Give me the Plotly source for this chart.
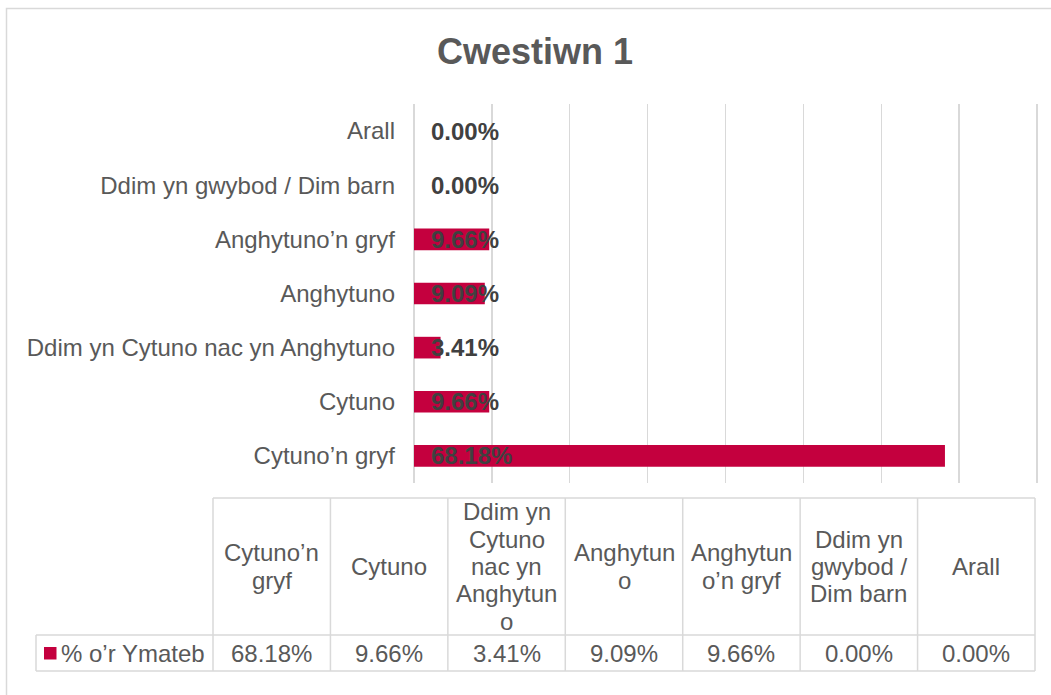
import plotly.graph_objects as go

# ---------------- data ----------------
categories = [
    "Cytuno’n gryf",
    "Cytuno",
    "Ddim yn Cytuno nac yn Anghytuno",
    "Anghytuno",
    "Anghytuno’n gryf",
    "Ddim yn gwybod / Dim barn",
    "Arall",
]
values = [68.18, 9.66, 3.41, 9.09, 9.66, 0.00, 0.00]
series_name = "% o’r Ymateb"
chart_title = "Cwestiwn 1"
x_ticks = [0, 10, 20, 30, 40, 50, 60, 70, 80]

# ---------------- style ----------------
OFF = 0                      # body margin removed via post_script
W, H = 1051 - OFF, 695 - OFF
FONT = "Liberation Sans, Arial, sans-serif"
BAR = "#C4003E"
TXT = "#595959"
LBL = "#404040"
GRID = "#d9d9d9"


def fx(px):
    return (px - OFF) / W


def fy(py):
    return 1 - (py - OFF) / H


# approximate Arial widths (em/1000) for word wrapping in the table header
_w = {" ": 278, "/": 278, "’": 222, "A": 667, "C": 722, "D": 722, "a": 556, "b": 556,
      "c": 500, "d": 556, "e": 556, "f": 278, "g": 556, "h": 556, "i": 222, "l": 222,
      "m": 833, "n": 556, "o": 556, "r": 333, "t": 278, "u": 556, "w": 722, "y": 500}


def tw(s, size=24):
    return sum(_w.get(c, 556) for c in s) * size / 1000


def wrap(text, maxw=105):
    lines, cur = [], ""
    for word in text.split(" "):
        cand = word if not cur else cur + " " + word
        if tw(cand) <= maxw:
            cur = cand
            continue
        if cur:
            lines.append(cur)
        cur = ""
        while tw(word) > maxw:
            k = len(word)
            while k > 1 and tw(word[:k]) > maxw:
                k -= 1
            lines.append(word[:k])
            word = word[k:]
        cur = word
    if cur:
        lines.append(cur)
    return lines


fig = go.Figure(
    go.Bar(
        x=values,
        y=categories,
        orientation="h",
        marker=dict(color=BAR, line=dict(width=0)),
        width=0.4,
        name=series_name,
        hoverinfo="skip",
    )
)

annotations = []
shapes = []

# data labels (inside base)
for c, v in zip(categories, values):
    annotations.append(dict(
        x=0, y=c, xref="x", yref="y", text=f"<b>{v:.2f}%</b>", showarrow=False,
        xanchor="left", yanchor="middle", xshift=15,
        font=dict(family=FONT, size=24, color=LBL),
    ))

# title
annotations.append(dict(
    x=fx(535), y=fy(51), xref="paper", yref="paper", text=f"<b>{chart_title}</b>",
    showarrow=False, xanchor="center", yanchor="middle",
    font=dict(family=FONT, size=36, color=TXT),
))

# ---------------- data table ----------------
tx0, tx1 = 213, 1035
lx0 = 36
hy0, hy1, ry1 = 498, 635, 671
n = len(categories)
cw = (tx1 - tx0) / n
line = dict(color=GRID, width=1.5)

shapes.append(dict(type="line", xref="paper", yref="paper", x0=fx(tx0), x1=fx(tx1), y0=fy(hy0), y1=fy(hy0), line=line))
for yy in (hy1, ry1):
    shapes.append(dict(type="line", xref="paper", yref="paper", x0=fx(lx0), x1=fx(tx1), y0=fy(yy), y1=fy(yy), line=line))
shapes.append(dict(type="line", xref="paper", yref="paper", x0=fx(lx0), x1=fx(lx0), y0=fy(hy1), y1=fy(ry1), line=line))
for i in range(n + 1):
    xx = tx0 + i * cw
    shapes.append(dict(type="line", xref="paper", yref="paper", x0=fx(xx), x1=fx(xx), y0=fy(hy0), y1=fy(ry1), line=line))

hc = (hy0 + hy1) / 2
rc = (hy1 + ry1) / 2
lh = 27.3
for i, (c, v) in enumerate(zip(categories, values)):
    cx = tx0 + (i + 0.5) * cw
    parts = wrap(c)
    m = len(parts)
    for k, p in enumerate(parts):
        annotations.append(dict(
            x=fx(cx), y=fy(hc + (k - (m - 1) / 2) * lh), xref="paper", yref="paper",
            text=p, showarrow=False, xanchor="center", yanchor="middle",
            font=dict(family=FONT, size=24, color=TXT),
        ))
    annotations.append(dict(
        x=fx(cx), y=fy(rc), xref="paper", yref="paper", text=f"{v:.2f}%",
        showarrow=False, xanchor="center", yanchor="middle",
        font=dict(family=FONT, size=24, color=TXT),
    ))

# legend key + series name
shapes.append(dict(type="rect", xref="paper", yref="paper", x0=fx(44), x1=fx(56.5), y0=fy(647), y1=fy(659.5),
                   fillcolor=BAR, line=dict(width=0)))
annotations.append(dict(
    x=fx(59), y=fy(rc), xref="paper", yref="paper", text=series_name, showarrow=False,
    xanchor="left", yanchor="middle", font=dict(family=FONT, size=24, color=TXT),
))

# chart border
shapes.append(dict(type="rect", xref="paper", yref="paper", x0=fx(6.5), x1=fx(1062), y0=fy(8.5), y1=fy(710),
                   line=dict(color=GRID, width=1.5), fillcolor="rgba(0,0,0,0)"))

# plot area: 0 -> 414px, 80 -> 1037px; range padded slightly so the 80 gridline is drawn
XMAX = 80.3
px_per_unit = (1037 - 414) / 80

fig.update_layout(
    template="none",
    width=W,
    height=H,
    margin=dict(l=0, r=0, t=0, b=0),
    paper_bgcolor="white",
    plot_bgcolor="white",
    showlegend=False,
    hovermode=False,
    font=dict(family=FONT, color=TXT),
    xaxis=dict(
        domain=[fx(414), fx(414 + XMAX * px_per_unit)],
        range=[0, XMAX],
        tickvals=x_ticks,
        showticklabels=False,
        ticks="",
        showgrid=True,
        gridcolor=GRID,
        gridwidth=1.3,
        zeroline=True,
        zerolinecolor=GRID,
        zerolinewidth=1.3,
        showline=False,
        automargin=False,
        fixedrange=True,
    ),
    yaxis=dict(
        domain=[fy(483), fy(104)],
        type="category",
        categoryorder="array",
        categoryarray=categories,
        tickfont=dict(family=FONT, size=24, color=TXT),
        ticks="",
        ticklabelstandoff=18,
        showgrid=False,
        zeroline=False,
        showline=False,
        automargin=False,
        fixedrange=True,
    ),
    annotations=annotations,
    shapes=shapes,
)

fig.write_html(
    "out.html",
    config={"displayModeBar": False, "staticPlot": True},
    post_script="document.body.style.margin='0';document.body.style.overflow='hidden';",
)
